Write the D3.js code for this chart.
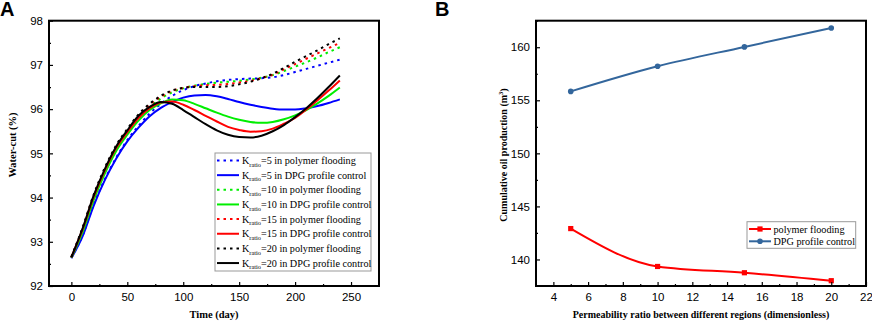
<!DOCTYPE html>
<html>
<head>
<meta charset="utf-8">
<script src="https://cdn.jsdelivr.net/npm/d3@7"></script>
<style>
  body { margin: 0; background: #fff; }
  svg { display: block; }
</style>
</head>
<body>
<svg id="chart" width="872" height="321"></svg>
<script>
// ---- panel A data: water-cut (%) vs time (day)
const timeDays = [0, 10, 20, 30, 40, 50, 60, 70, 80, 90, 100, 110, 120, 130, 140, 150, 160, 170, 180, 190, 200, 210, 220, 230, 240];

const polymer5  = [92.64, 93.14, 93.85, 94.42, 94.90, 95.30, 95.62, 95.90, 96.12, 96.30, 96.43, 96.52, 96.58, 96.63, 96.66, 96.68, 96.69, 96.70, 96.72, 96.77, 96.84, 96.91, 96.98, 97.05, 97.12];
const dpg5      = [92.63, 93.12, 93.82, 94.40, 94.88, 95.27, 95.58, 95.84, 96.03, 96.16, 96.26, 96.31, 96.32, 96.29, 96.23, 96.16, 96.10, 96.05, 96.01, 95.99, 95.99, 96.02, 96.07, 96.14, 96.22];
const polymer10 = [92.65, 93.24, 93.98, 94.58, 95.08, 95.45, 95.78, 96.04, 96.24, 96.38, 96.47, 96.53, 96.57, 96.60, 96.62, 96.64, 96.67, 96.71, 96.77, 96.86, 96.96, 97.06, 97.17, 97.29, 97.40];
const dpg10     = [92.64, 93.22, 93.95, 94.55, 95.05, 95.42, 95.74, 95.98, 96.13, 96.22, 96.20, 96.12, 96.02, 95.92, 95.83, 95.76, 95.71, 95.69, 95.71, 95.77, 95.86, 95.98, 96.13, 96.30, 96.49];
const polymer15 = [92.66, 93.30, 94.05, 94.65, 95.15, 95.52, 95.85, 96.10, 96.28, 96.41, 96.48, 96.52, 96.54, 96.55, 96.57, 96.60, 96.64, 96.70, 96.78, 96.90, 97.02, 97.14, 97.26, 97.38, 97.50];
const dpg15     = [92.65, 93.28, 94.02, 94.62, 95.12, 95.48, 95.80, 96.02, 96.15, 96.17, 96.10, 95.98, 95.85, 95.72, 95.60, 95.53, 95.49, 95.50, 95.56, 95.67, 95.80, 95.99, 96.20, 96.42, 96.65];
const polymer20 = [92.66, 93.32, 94.07, 94.68, 95.18, 95.55, 95.88, 96.12, 96.30, 96.42, 96.48, 96.50, 96.50, 96.50, 96.52, 96.56, 96.62, 96.70, 96.80, 96.93, 97.07, 97.20, 97.33, 97.47, 97.60];
const dpg20     = [92.65, 93.30, 94.05, 94.65, 95.15, 95.52, 95.85, 96.05, 96.16, 96.12, 95.98, 95.82, 95.66, 95.52, 95.42, 95.37, 95.36, 95.40, 95.50, 95.64, 95.82, 96.02, 96.25, 96.50, 96.76];

const waterCutTicks = [92, 93, 94, 95, 96, 97, 98];
const timeTicks = [0, 50, 100, 150, 200, 250];

// ---- panel B data: cumulative oil production vs permeability ratio
const permRatios = [5, 10, 15, 20];
const polymerOil = [142.91, 139.34, 138.75, 138.0];
const dpgOil     = [155.84, 158.21, 160.03, 161.81];

const oilTicks = [140, 145, 150, 155, 160];
const permTicks = [4, 6, 8, 10, 12, 14, 16, 18, 20, 22];

const svg = d3.select("#chart");
const sansFont = "'Liberation Sans', Arial, sans-serif";
const serifFont = "'Liberation Serif', 'Times New Roman', serif";

// draws inward major + minor ticks and a framed box
function drawFrame(g, x, y, xTicks, yTicks, xMinor, yMinor) {
    const [x0, x1] = x.range();
    const [y0, y1] = y.range();

    g.append("g")
        .attr("transform", `translate(0,${y0})`)
        .call(d3.axisBottom(x).tickValues(xMinor).tickSize(-2).tickFormat(""))
        .call(a => a.select(".domain").remove());
    g.append("g")
        .attr("transform", `translate(${x0},0)`)
        .call(d3.axisLeft(y).tickValues(yMinor).tickSize(-2).tickFormat(""))
        .call(a => a.select(".domain").remove());

    g.append("g")
        .attr("transform", `translate(0,${y0})`)
        .call(d3.axisBottom(x).tickValues(xTicks).tickSize(-4).tickPadding(7).tickFormat(d => d))
        .call(a => a.select(".domain").remove())
        .selectAll("text")
        .style("font-family", sansFont)
        .style("font-size", "11.5px");
    g.append("g")
        .attr("transform", `translate(${x0},0)`)
        .call(d3.axisLeft(y).tickValues(yTicks).tickSize(-4).tickPadding(6).tickFormat(d => d))
        .call(a => a.select(".domain").remove())
        .selectAll("text")
        .style("font-family", sansFont)
        .style("font-size", "11.5px");

    g.selectAll(".tick line").attr("stroke", "#000").attr("stroke-width", 1.2);

    g.append("rect")
        .attr("x", x0).attr("y", y1)
        .attr("width", x1 - x0).attr("height", y0 - y1)
        .attr("fill", "none").attr("stroke", "#000").attr("stroke-width", 2);
}

// ================= panel A =================
const gA = svg.append("g");

const xA = d3.scaleLinear().domain([-20, 275]).range([49, 379]);
const yA = d3.scaleLinear().domain([92, 98]).range([286, 20.7]);

const seriesA = [
    { values: polymer5,  color: "#0000ff", dotted: true,  k: "5",  label: " in polymer flooding" },
    { values: dpg5,      color: "#0000ff", dotted: false, k: "5",  label: " in DPG profile control" },
    { values: polymer10, color: "#00ee00", dotted: true,  k: "10", label: " in polymer flooding" },
    { values: dpg10,     color: "#00ee00", dotted: false, k: "10", label: " in DPG profile control" },
    { values: polymer15, color: "#ff0000", dotted: true,  k: "15", label: " in polymer flooding" },
    { values: dpg15,     color: "#ff0000", dotted: false, k: "15", label: " in DPG profile control" },
    { values: polymer20, color: "#000000", dotted: true,  k: "20", label: " in polymer flooding" },
    { values: dpg20,     color: "#000000", dotted: false, k: "20", label: " in DPG profile control" }
];

const lineA = d3.line()
    .x(d => xA(d[0]))
    .y(d => yA(d[1]))
    .curve(d3.curveMonotoneX);

gA.selectAll("path.series")
    .data(seriesA)
    .join("path")
    .attr("class", "series")
    .attr("fill", "none")
    .attr("stroke", d => d.color)
    .attr("stroke-width", 2)
    .attr("stroke-dasharray", d => d.dotted ? "2.5,4" : null)
    .attr("d", d => lineA(timeDays.map((t, i) => [t, d.values[i]])));

drawFrame(gA, xA, yA, timeTicks, waterCutTicks,
    [25, 75, 125, 175, 225], [92.5, 93.5, 94.5, 95.5, 96.5, 97.5]);

// legend A
const legA = gA.append("g");
legA.append("rect")
    .attr("x", 215).attr("y", 153)
    .attr("width", 156).attr("height", 118)
    .attr("fill", "#fff").attr("stroke", "#999").attr("stroke-width", 1);

seriesA.forEach((s, i) => {
    const ly = 160.5 + i * 14.65;
    legA.append("line")
        .attr("x1", 217).attr("x2", 239)
        .attr("y1", ly).attr("y2", ly)
        .attr("stroke", s.color).attr("stroke-width", 2)
        .attr("stroke-dasharray", s.dotted ? "2.5,4" : null);
    const t = legA.append("text")
        .attr("x", 242).attr("y", ly + 3.6)
        .style("font-family", serifFont)
        .style("font-size", "10.2px");
    t.append("tspan").text("K");
    t.append("tspan").attr("dy", 2.5).style("font-size", "6.3px").text("ratio");
    t.append("tspan").attr("dy", -2.5).text("=" + s.k + s.label);
});

gA.append("text")
    .attr("transform", "rotate(-90)")
    .attr("x", -145).attr("y", 16)
    .attr("text-anchor", "middle")
    .style("font-family", serifFont)
    .style("font-weight", "bold")
    .style("font-size", "10.5px")
    .text("Water-cut (%)");

gA.append("text")
    .attr("x", 214).attr("y", 318)
    .attr("text-anchor", "middle")
    .style("font-family", serifFont)
    .style("font-weight", "bold")
    .style("font-size", "10.5px")
    .text("Time (day)");

gA.append("text")
    .attr("x", 0).attr("y", 16)
    .style("font-family", sansFont)
    .style("font-weight", "bold")
    .style("font-size", "20px")
    .text("A");

// ================= panel B =================
const gB = svg.append("g");

const xB = d3.scaleLinear().domain([3, 22]).range([536, 866]);
const yB = d3.scaleLinear().domain([137.5, 162.5]).range([286, 20.7]);

const lineB = d3.line()
    .x(d => xB(d[0]))
    .y(d => yB(d[1]))
    .curve(d3.curveMonotoneX);

const redColor = "#ff0000";
const blueColor = "#33669c";

gB.append("path")
    .attr("fill", "none").attr("stroke", redColor).attr("stroke-width", 2)
    .attr("d", lineB(permRatios.map((p, i) => [p, polymerOil[i]])));
gB.append("path")
    .attr("fill", "none").attr("stroke", blueColor).attr("stroke-width", 2)
    .attr("d", lineB(permRatios.map((p, i) => [p, dpgOil[i]])));

gB.selectAll("rect.sq")
    .data(permRatios)
    .join("rect")
    .attr("class", "sq")
    .attr("x", (d) => xB(d) - 2.6)
    .attr("y", (d, i) => yB(polymerOil[i]) - 2.6)
    .attr("width", 5.2).attr("height", 5.2)
    .attr("fill", redColor);

gB.selectAll("circle.dot")
    .data(permRatios)
    .join("circle")
    .attr("class", "dot")
    .attr("cx", d => xB(d))
    .attr("cy", (d, i) => yB(dpgOil[i]))
    .attr("r", 2.8)
    .attr("fill", blueColor);

drawFrame(gB, xB, yB, permTicks, oilTicks,
    [5, 7, 9, 11, 13, 15, 17, 19, 21],
    [137.5, 142.5, 147.5, 152.5, 157.5, 162.5]);

// legend B
const legB = gB.append("g");
legB.append("rect")
    .attr("x", 747).attr("y", 221.7)
    .attr("width", 108.7).attr("height", 26.6)
    .attr("fill", "#fff").attr("stroke", "#999").attr("stroke-width", 1);

[
    { label: "polymer flooding", color: redColor, square: true },
    { label: "DPG profile control", color: blueColor, square: false }
].forEach((s, i) => {
    const ly = 229 + i * 12.3;
    legB.append("line")
        .attr("x1", 749).attr("x2", 771)
        .attr("y1", ly).attr("y2", ly)
        .attr("stroke", s.color).attr("stroke-width", 2);
    if (s.square) {
        legB.append("rect")
            .attr("x", 760 - 2.6).attr("y", ly - 2.6)
            .attr("width", 5.2).attr("height", 5.2)
            .attr("fill", s.color);
    } else {
        legB.append("circle")
            .attr("cx", 760).attr("cy", ly).attr("r", 2.8)
            .attr("fill", s.color);
    }
    legB.append("text")
        .attr("x", 773.5).attr("y", ly + 3.6)
        .style("font-family", serifFont)
        .style("font-size", "10.2px")
        .text(s.label);
});

const yTitle = gB.append("text")
    .attr("transform", "rotate(-90)")
    .attr("x", -155).attr("y", 507)
    .attr("text-anchor", "middle")
    .style("font-family", serifFont)
    .style("font-weight", "bold")
    .style("font-size", "10px");
yTitle.append("tspan").text("Cumulative oil production (m");
yTitle.append("tspan").attr("dy", -4).style("font-size", "6.5px").text("3");
yTitle.append("tspan").attr("dy", 4).text(")");

gB.append("text")
    .attr("x", 701).attr("y", 318)
    .attr("text-anchor", "middle")
    .style("font-family", serifFont)
    .style("font-weight", "bold")
    .style("font-size", "10px")
    .text("Permeability ratio between different regions (dimensionless)");

gB.append("text")
    .attr("x", 435).attr("y", 16)
    .style("font-family", sansFont)
    .style("font-weight", "bold")
    .style("font-size", "20px")
    .text("B");
</script>
</body>
</html>
